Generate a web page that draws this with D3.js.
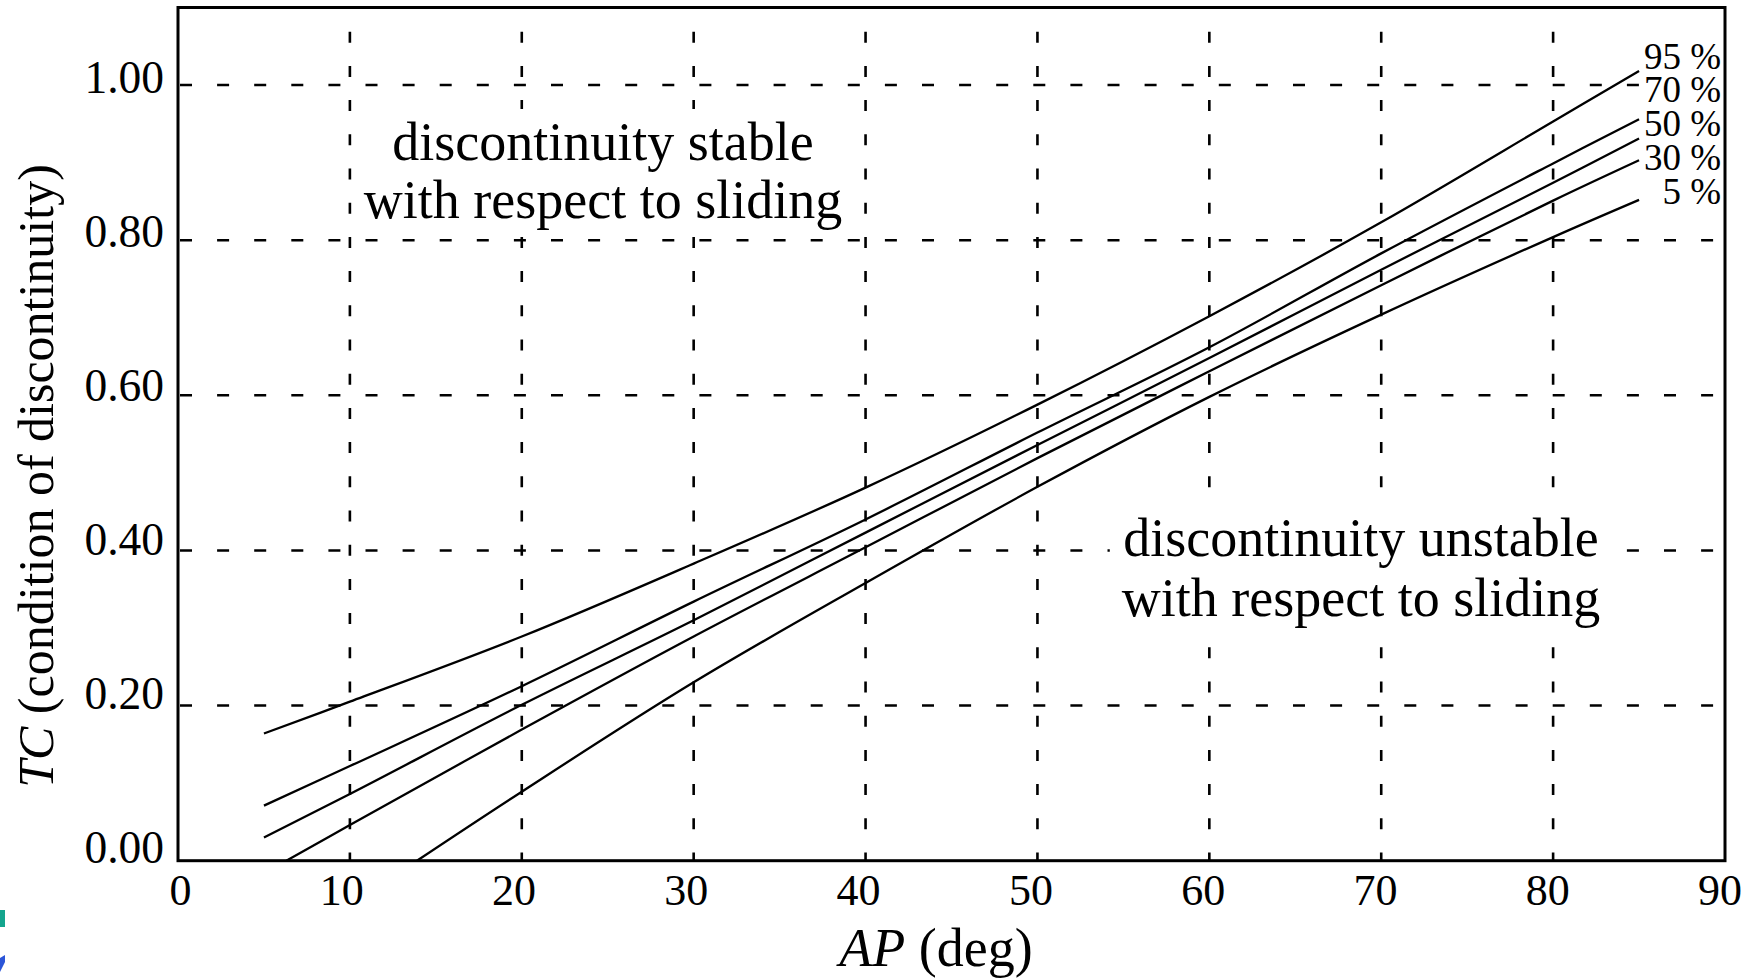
<!DOCTYPE html>
<html><head><meta charset="utf-8">
<script src="https://cdn.jsdelivr.net/npm/d3@7"></script>
<style>
html,body{margin:0;padding:0;background:#fff;}
svg{display:block;}
text{font-family:"Liberation Serif","Times New Roman",serif;fill:#000;}
</style></head><body>
<svg id="chart" width="1752" height="980"></svg>
<script>
// ---- data ----
const xTicks = [0, 10, 20, 30, 40, 50, 60, 70, 80, 90];
const yTicks = [0, 0.2, 0.4, 0.6, 0.8, 1.0];
const yTickLabels = ["0.00", "0.20", "0.40", "0.60", "0.80", "1.00"];
const seriesNames = ["95 %", "70 %", "50 %", "30 %", "5 %"];

const ap95 = [5, 10, 20, 30, 40, 50, 60, 70, 80, 85];
const tc95 = [0.164, 0.205, 0.289, 0.383, 0.481, 0.588, 0.702, 0.823, 0.953, 1.018];
const ap70 = [5, 10, 20, 30, 40, 50, 60, 70, 80, 85];
const tc70 = [0.071, 0.122, 0.225, 0.334, 0.440, 0.552, 0.662, 0.783, 0.899, 0.956];
const ap50 = [5, 10, 20, 30, 40, 50, 60, 70, 80, 85];
const tc50 = [0.030, 0.086, 0.201, 0.310, 0.423, 0.536, 0.648, 0.762, 0.874, 0.931];
const ap30 = [6.3, 10, 20, 30, 40, 50, 60, 70, 80, 85];
const tc30 = [0.000, 0.046, 0.169, 0.289, 0.404, 0.519, 0.631, 0.742, 0.851, 0.903];
const ap5  = [13.9, 20, 30, 40, 50, 60, 70, 80, 85];
const tc5  = [0.000, 0.089, 0.230, 0.358, 0.482, 0.598, 0.704, 0.804, 0.852];

const annotations = [
  ["discontinuity stable", "with respect to sliding"],
  ["discontinuity unstable", "with respect to sliding"]
];

// ---- layout ----
const L = 178, R = 1725, T = 7.5, B = 860.7;
const svg = d3.select("#chart");
const x = d3.scaleLinear().domain([0, 90]).range([L, R]);
const y = d3.scaleLinear().domain([0, 1.1]).range([B, T]);
// label placement scales (labels in the source are spaced slightly differently from the grid)
const xLab = d3.scaleLinear().domain([0, 90]).range([191.5, 1742]);
const yLab = d3.scaleLinear().domain([0, 1.0]).range([862.7, 93.3]);

// grid
const grid = svg.append("g");
grid.selectAll("line.h").data(yTicks.filter(d => d > 0)).join("line")
  .attr("x1", L).attr("x2", R)
  .attr("y1", d => y(d)).attr("y2", d => y(d))
  .attr("stroke", "#000").attr("stroke-width", 2.6)
  .attr("stroke-dasharray", "12,25.1").attr("stroke-dashoffset", 35.1);
grid.selectAll("line.v").data(xTicks.filter(d => d > 0 && d < 90)).join("line")
  .attr("x1", d => x(d)).attr("x2", d => x(d))
  .attr("y1", T).attr("y2", B)
  .attr("stroke", "#000").attr("stroke-width", 2.6)
  .attr("stroke-dasharray", "11,23.2").attr("stroke-dashoffset", 10);

const bgLayer = svg.append("g");
const curveLayer = svg.append("g");
const textLayer = svg.append("g");

function whiteBehind(sel, px, py) {
  sel.each(function() {
    const b = this.getBBox();
    bgLayer.append("rect")
      .attr("x", b.x - px).attr("y", b.y - py)
      .attr("width", b.width + 2 * px).attr("height", b.height + 2 * py)
      .attr("fill", "#fff");
  });
}

// curves
const series = [
  {name: seriesNames[0], ap: ap95, tc: tc95},
  {name: seriesNames[1], ap: ap70, tc: tc70},
  {name: seriesNames[2], ap: ap50, tc: tc50},
  {name: seriesNames[3], ap: ap30, tc: tc30},
  {name: seriesNames[4], ap: ap5,  tc: tc5}
];
const line = d3.line().x(d => x(d[0])).y(d => y(d[1])).curve(d3.curveCatmullRom.alpha(0.5));
curveLayer.selectAll("path").data(series).join("path")
  .attr("d", s => line(s.ap.map((a, i) => [a, s.tc[i]])))
  .attr("fill", "none").attr("stroke", "#000").attr("stroke-width", 2.3);

// series labels
const labBase = [69, 101.7, 136.2, 170, 204];
const sLab = textLayer.append("g").selectAll("text").data(series).join("text")
  .attr("x", 1721).attr("y", (d, i) => labBase[i])
  .attr("text-anchor", "end").attr("font-size", 37)
  .text(d => d.name);
whiteBehind(sLab, 2, 0);

// annotations
const annPos = [{cx: 603, y1: 160, y2: 218, px: 8, py: 3}, {cx: 1361, y1: 556, y2: 616, px: 12, py: 3}];
annotations.forEach((lines, k) => {
  const t = textLayer.append("text").attr("text-anchor", "middle").attr("font-size", 54);
  t.append("tspan").attr("x", annPos[k].cx).attr("y", annPos[k].y1).text(lines[0]);
  t.append("tspan").attr("x", annPos[k].cx).attr("y", annPos[k].y2).text(lines[1]);
  whiteBehind(t, annPos[k].px, annPos[k].py);
});

// frame
svg.append("rect").attr("x", L).attr("y", T).attr("width", R - L).attr("height", B - T)
  .attr("fill", "none").attr("stroke", "#000").attr("stroke-width", 3);

// tick labels
svg.append("g").selectAll("text").data(xTicks).join("text")
  .attr("x", d => xLab(d)).attr("y", 905)
  .attr("text-anchor", "end").attr("font-size", 44)
  .text(d => d);
svg.append("g").selectAll("text").data(yTicks).join("text")
  .attr("x", 164).attr("y", d => yLab(d))
  .attr("text-anchor", "end").attr("font-size", 45.5)
  .text((d, i) => yTickLabels[i]);

// axis titles
const xt = svg.append("text").attr("x", 936).attr("y", 966)
  .attr("text-anchor", "middle").attr("font-size", 54);
xt.append("tspan").attr("font-style", "italic").text("AP");
xt.append("tspan").text(" (deg)");

const yt = svg.append("text").attr("transform", "translate(53,476) rotate(-90)")
  .attr("text-anchor", "middle").attr("font-size", 50);
yt.append("tspan").attr("font-style", "italic").text("TC");
yt.append("tspan").text(" (condition of discontinuity)");

// small colour marks at the left edge (present in the source image)
svg.append("rect").attr("x", 0).attr("y", 910).attr("width", 5).attr("height", 17).attr("fill", "#14a58e");
svg.append("path").attr("d", "M0,958 L5,955 L5,962 L0,972 Z").attr("fill", "#2b55d8");
</script>
</body></html>
